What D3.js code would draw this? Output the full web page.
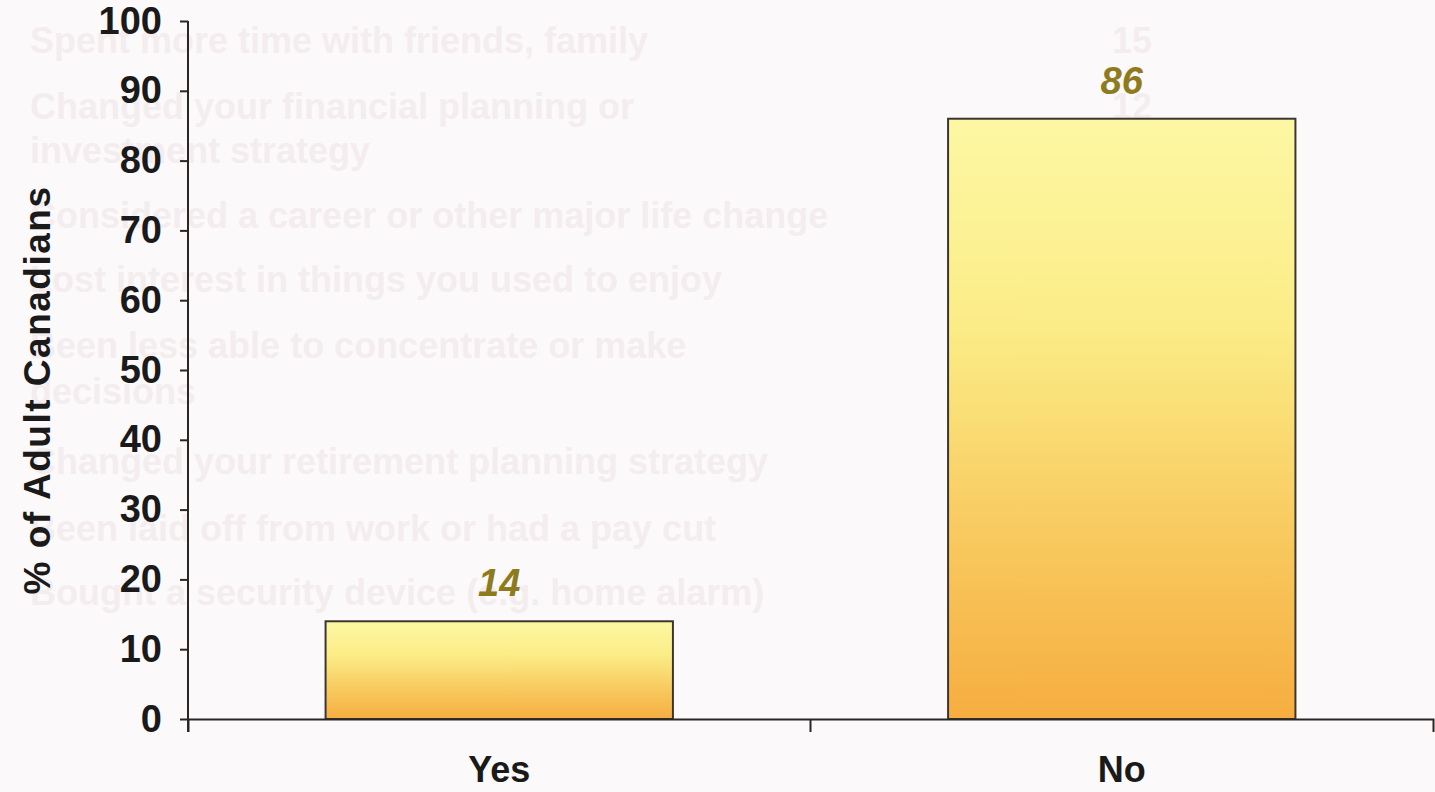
<!DOCTYPE html>
<html>
<head>
<meta charset="utf-8">
<script src="https://cdn.jsdelivr.net/npm/d3@7"></script>
<style>
  html, body { margin: 0; padding: 0; background: #fcf9fa; }
  svg { display: block; font-family: "Liberation Sans", Arial, Helvetica, sans-serif; }
</style>
</head>
<body>
<svg id="chart" width="1435" height="792"></svg>
<script>
// Survey answer categories and their shares (% of adult Canadians)
const categories = ["Yes", "No"];
const values = [14, 86];
const yTicks = [0, 10, 20, 30, 40, 50, 60, 70, 80, 90, 100];
const yTitle = "% of Adult Canadians";

// Faint back-page listing printed behind the chart
const backLines = [
  "Spent more time with friends, family",
  "Changed your financial planning or",
  "investment strategy",
  "Considered a career or other major life change",
  "Lost interest in things you used to enjoy",
  "Been less able to concentrate or make",
  "decisions",
  "Changed your retirement planning strategy",
  "Been laid off from work or had a pay cut",
  "Bought a security device (e.g. home alarm)"
];
const backLineRows = [0, 1, 2, 3, 4, 5, 6, 7, 8, 9];
const backNumbers = ["15", "12", "12", "9", "9", "8", "7", "4"];
const backNumberRows = [0, 1, 3, 4, 5, 7, 8, 9];

const svg = d3.select("#chart");
const W = 1435, H = 792;
const margin = { left: 188, right: 2, top: 21, bottom: 73 };

svg.append("rect").attr("width", W).attr("height", H).attr("fill", "#fcf9fa");

// back-page text, very faint
const rowY = d3.scaleOrdinal()
  .domain(d3.range(10))
  .range([40, 106, 150, 215, 279, 345, 391, 461, 528, 592]);
const ghost = svg.append("g").attr("fill", "#f4edef").attr("font-weight", "bold").attr("font-size", 36);
ghost.selectAll("text.l").data(backLines).join("text")
  .attr("class", "l")
  .attr("x", 30)
  .attr("y", (d, i) => rowY(backLineRows[i]))
  .attr("dy", "0.35em")
  .text(d => d);
ghost.selectAll("text.n").data(backNumbers).join("text")
  .attr("class", "n")
  .attr("x", 1132)
  .attr("y", (d, i) => rowY(backNumberRows[i]))
  .attr("dy", "0.35em")
  .attr("text-anchor", "middle")
  .text(d => d);

// scales
const x = d3.scaleBand()
  .domain(categories)
  .range([margin.left, W - margin.right])
  .padding(0);
const y = d3.scaleLinear()
  .domain([0, 100])
  .range([H - margin.bottom, margin.top]);

const barFrac = 0.558;
const barW = x.bandwidth() * barFrac;

// vertical gradient for each bar
const defs = svg.append("defs");
const grad = defs.append("linearGradient")
  .attr("id", "barFill")
  .attr("x1", 0).attr("y1", 0).attr("x2", 0).attr("y2", 1);
[[0, "#fdf7a4"], [0.35, "#fbec86"], [0.7, "#f8c95e"], [1, "#f6ad40"]].forEach(([o, c]) =>
  grad.append("stop").attr("offset", o).attr("stop-color", c));

// bars
svg.append("g").selectAll("rect").data(categories).join("rect")
  .attr("x", d => x(d) + (x.bandwidth() - barW) / 2)
  .attr("y", (d, i) => y(values[i]))
  .attr("width", barW)
  .attr("height", (d, i) => y(0) - y(values[i]))
  .attr("fill", "url(#barFill)")
  .attr("stroke", "#3b3631")
  .attr("stroke-width", 2);

// value labels
svg.append("g").selectAll("text").data(categories).join("text")
  .attr("x", d => x(d) + x.bandwidth() / 2)
  .attr("y", (d, i) => y(values[i]) - 25)
  .attr("text-anchor", "middle")
  .attr("font-size", 38)
  .attr("font-weight", "bold")
  .attr("font-style", "italic")
  .attr("fill", "#8d7b1d")
  .text((d, i) => values[i]);

// y axis
const yAxis = svg.append("g")
  .attr("transform", `translate(${margin.left},0)`)
  .call(d3.axisLeft(y).tickValues(yTicks).tickSize(8).tickSizeOuter(0).tickPadding(18));
yAxis.select(".domain").attr("stroke", "#2b2622").attr("stroke-width", 2)
  .attr("d", `M0,${y(100)}V${y(0) + 13}`);
yAxis.selectAll(".tick line").attr("stroke", "#2b2622").attr("stroke-width", 2);
yAxis.selectAll(".tick text")
  .attr("font-size", 38)
  .attr("font-weight", "bold")
  .attr("fill", "#1a1a1a")
  .attr("font-family", "'Liberation Sans', Arial, sans-serif");

// x axis: baseline with ticks at category boundaries
const xAxis = svg.append("g")
  .attr("transform", `translate(0,${y(0)})`)
  .call(d3.axisBottom(x).tickSize(0).tickSizeOuter(13).tickFormat(""));
xAxis.select(".domain").attr("stroke", "#2b2622").attr("stroke-width", 2);
xAxis.selectAll(".tick").remove();
xAxis.selectAll("line.bound").data(categories.slice(1)).join("line")
  .attr("class", "bound")
  .attr("x1", d => x(d)).attr("x2", d => x(d))
  .attr("y1", 0).attr("y2", 13)
  .attr("stroke", "#2b2622").attr("stroke-width", 2);

// category labels
svg.append("g").selectAll("text").data(categories).join("text")
  .attr("x", d => x(d) + x.bandwidth() / 2)
  .attr("y", 782)
  .attr("text-anchor", "middle")
  .attr("font-size", 36)
  .attr("font-weight", "bold")
  .attr("fill", "#1a1a1a")
  .text(d => d);

// y axis title
svg.append("text")
  .attr("transform", `translate(50,390) rotate(-90)`)
  .attr("text-anchor", "middle")
  .attr("font-size", 37)
  .attr("font-weight", "bold")
  .attr("letter-spacing", 1.5)
  .attr("fill", "#1a1a1a")
  .text(yTitle);
</script>
</body>
</html>
